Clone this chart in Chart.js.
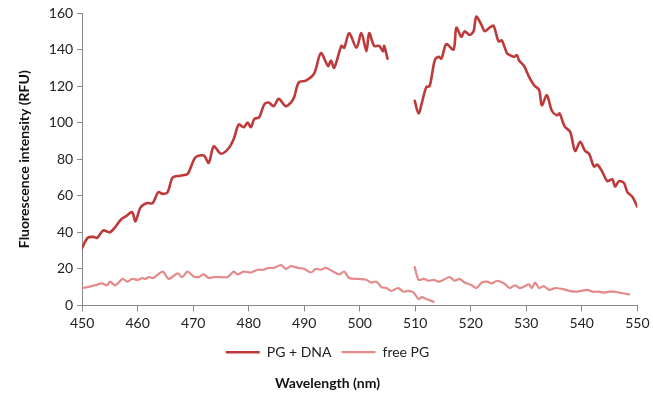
<!DOCTYPE html>
<html>
<head>
<meta charset="utf-8">
<script src="https://cdn.jsdelivr.net/npm/chart.js@4/dist/chart.umd.min.js"></script>
<style>
  html, body { margin: 0; padding: 0; background: #fff; }
  #wrap { width: 653px; height: 393px; }
</style>
</head>
<body>
<div id="wrap"><canvas id="c" width="653" height="393"></canvas></div>
<script>
// PG + DNA, first segment
const dnaWl1 = [450,451,452,452.7,453.8,455,456,457,458,459,459.6,460.5,461.7,462.7,463.7,464.5,465.4,466.3,467.7,469,470.4,471.9,472.8,473.7,475,476.4,477.3,478.2,479.1,479.8,480.4,481,481.9,482.8,483.6,484.5,485.4,486.7,487.6,488.2,489,490.3,491.8,493,494.3,494.8,495.4,496.7,497.2,498.1,499.4,500.3,501.2,501.7,502.6,503.5,504.2,504.4,505];
const dnaVal1 = [31.5,37,37.5,37,41,40,43,47,49,51,46,53.5,56,56,62,61,62,70,71,72,81,82,78,87,83,86,91,99,97.5,100,97.5,102,103,110,111,109,113,109,111,114,122,123,127,138,131,134,130,142,141,149,141,149,139,149,142,142,139,142,135];
// PG + DNA, second segment
const dnaWl2 = [509.9,510.6,511.2,512,512.6,513.5,514.2,514.7,515.6,516.9,517.4,518.3,518.9,519.8,520.5,521,522,522.5,523.4,524.1,525,525.6,526.5,527,527.8,528.3,528.7,529.6,530.5,531.4,532.3,532.8,533.7,534.6,535.5,536,536.9,537.9,538.8,539.7,540.6,541.3,542.2,542.8,543.7,544.6,545.5,546,546.7,547.6,548.2,549.1,550];
const dnaVal2 = [112,105,111,119.5,120,134,136,135,143,140,152,147,150,148,150,158,153,150,152,153,144.5,145,138,137,136,137,134,131,125,120.5,118,109.5,115,106.5,104,105,98,95,84.5,89.5,84.5,83,76,77,73,68,69,65,68,67,62,59.5,54];
// free PG, first segment
const freeWl1 = [450,451,452.3,453.6,454.5,455,456,457.3,458.1,459,460,460.9,461.4,462,462.8,464.5,465.6,467.2,468,469,470,471,471.9,472.8,473.7,475,476.2,477.3,478,479.1,480.4,481.6,482.7,483.6,484.5,485.8,486.7,487.6,488.9,490,491.2,492.1,493,493.9,495.2,496.3,497.2,498.1,499.7,501.2,502,503,503.9,504.8,505.7,506.9,507.9,508.8,509.7,510.6,511.2,512,513.3];
const freeVal1 = [9.5,10,11,12,11,13,11,14.5,13,14.5,14,15,14.5,15.5,15,18.5,14.5,17.5,15.5,18.5,16,15.5,17,15,15.5,15.5,15.5,18.5,17,18.5,18,19.5,19.5,20.5,20.5,22,20,21.5,20.5,20,18,20,19.5,20.5,18.5,17,18.5,15,14.5,14,12.5,13,10,9.5,8,9.5,7.5,8,7,3.5,4.5,3.5,2];
// free PG, second segment
const freeWl2 = [509.9,510.6,511.5,512.4,513.3,514.2,515.1,516.2,517.1,518,518.9,520.2,521,522,522.9,523.8,524.7,526,527,528,528.8,529.7,530.5,531,531.6,532.3,533.2,534.1,535.2,536.4,537.7,538.8,540,541,541.9,543.1,544,544.9,545.8,546.7,548.5];
const freeVal2 = [21,14,14.5,13.5,14,13,14,15.5,13.5,14.5,12.5,11,9.5,12.5,13,12,13.5,12,9.5,11,9.5,10.5,11.5,9.5,12.5,9.5,10.5,8.5,9.5,9,8,7.5,8,8.5,7.5,7.5,7,7.5,7.5,7,6];

const seriesNames = ['PG + DNA', 'free PG'];
const xTicks = { min: 450, max: 550, step: 10 };
const yTicks = { min: 0, max: 160, step: 20 };

const pts = (xs, ys) => xs.map((x, i) => ({ x: x, y: ys[i] }));
const dnaColor = '#BE3A3A';
const freeColor = '#E38B8B';

const base = { pointRadius: 0, tension: 0.3, fill: false, borderCapStyle: 'round', borderJoinStyle: 'round' };
const tickFont = { family: 'Lato', size: 14 };
const titleFont = { family: 'Lato', size: 14, weight: 'bold' };

new Chart(document.getElementById('c'), {
  type: 'line',
  data: {
    datasets: [
      Object.assign({ label: seriesNames[0], data: pts(dnaWl1, dnaVal1), borderColor: dnaColor, backgroundColor: dnaColor, borderWidth: 2.6 }, base),
      Object.assign({ label: seriesNames[0] + ' ', data: pts(dnaWl2, dnaVal2), borderColor: dnaColor, backgroundColor: dnaColor, borderWidth: 2.6 }, base),
      Object.assign({ label: seriesNames[1], data: pts(freeWl1, freeVal1), borderColor: freeColor, backgroundColor: freeColor, borderWidth: 2.2 }, base),
      Object.assign({ label: seriesNames[1] + ' ', data: pts(freeWl2, freeVal2), borderColor: freeColor, backgroundColor: freeColor, borderWidth: 2.2 }, base)
    ]
  },
  options: {
    responsive: false,
    animation: false,
    layout: { padding: { top: 13, right: 14, left: 16, bottom: 1 } },
    plugins: {
      tooltip: { enabled: false },
      legend: {
        position: 'bottom',
        labels: {
          filter: (item) => item.datasetIndex === 0 || item.datasetIndex === 2,
          usePointStyle: true,
          pointStyle: 'line',
          pointStyleWidth: 34,
          boxHeight: 8,
          color: '#222',
          font: tickFont,
          padding: 10
        }
      },
      title: {
        display: true,
        position: 'bottom',
        text: 'Wavelength (nm)',
        color: '#111',
        font: titleFont,
        padding: { top: 6, bottom: 0 }
      }
    },
    scales: {
      x: {
        type: 'linear',
        min: xTicks.min, max: xTicks.max,
        ticks: { stepSize: xTicks.step, color: '#222', font: tickFont, padding: 3.5, maxRotation: 0 },
        grid: { display: true, drawOnChartArea: false, drawTicks: true, tickLength: 6, color: '#888' },
        border: { color: '#888', width: 1 }
      },
      y: {
        min: yTicks.min, max: yTicks.max,
        ticks: { stepSize: yTicks.step, color: '#222', font: tickFont, padding: 4 },
        grid: { display: true, drawOnChartArea: false, drawTicks: true, tickLength: 5, color: '#888' },
        border: { color: '#888', width: 1 },
        title: { display: true, text: 'Fluorescence intensity (RFU)', color: '#111', font: titleFont, padding: { top: 0, bottom: 12 } }
      }
    }
  }
});
</script>
</body>
</html>
